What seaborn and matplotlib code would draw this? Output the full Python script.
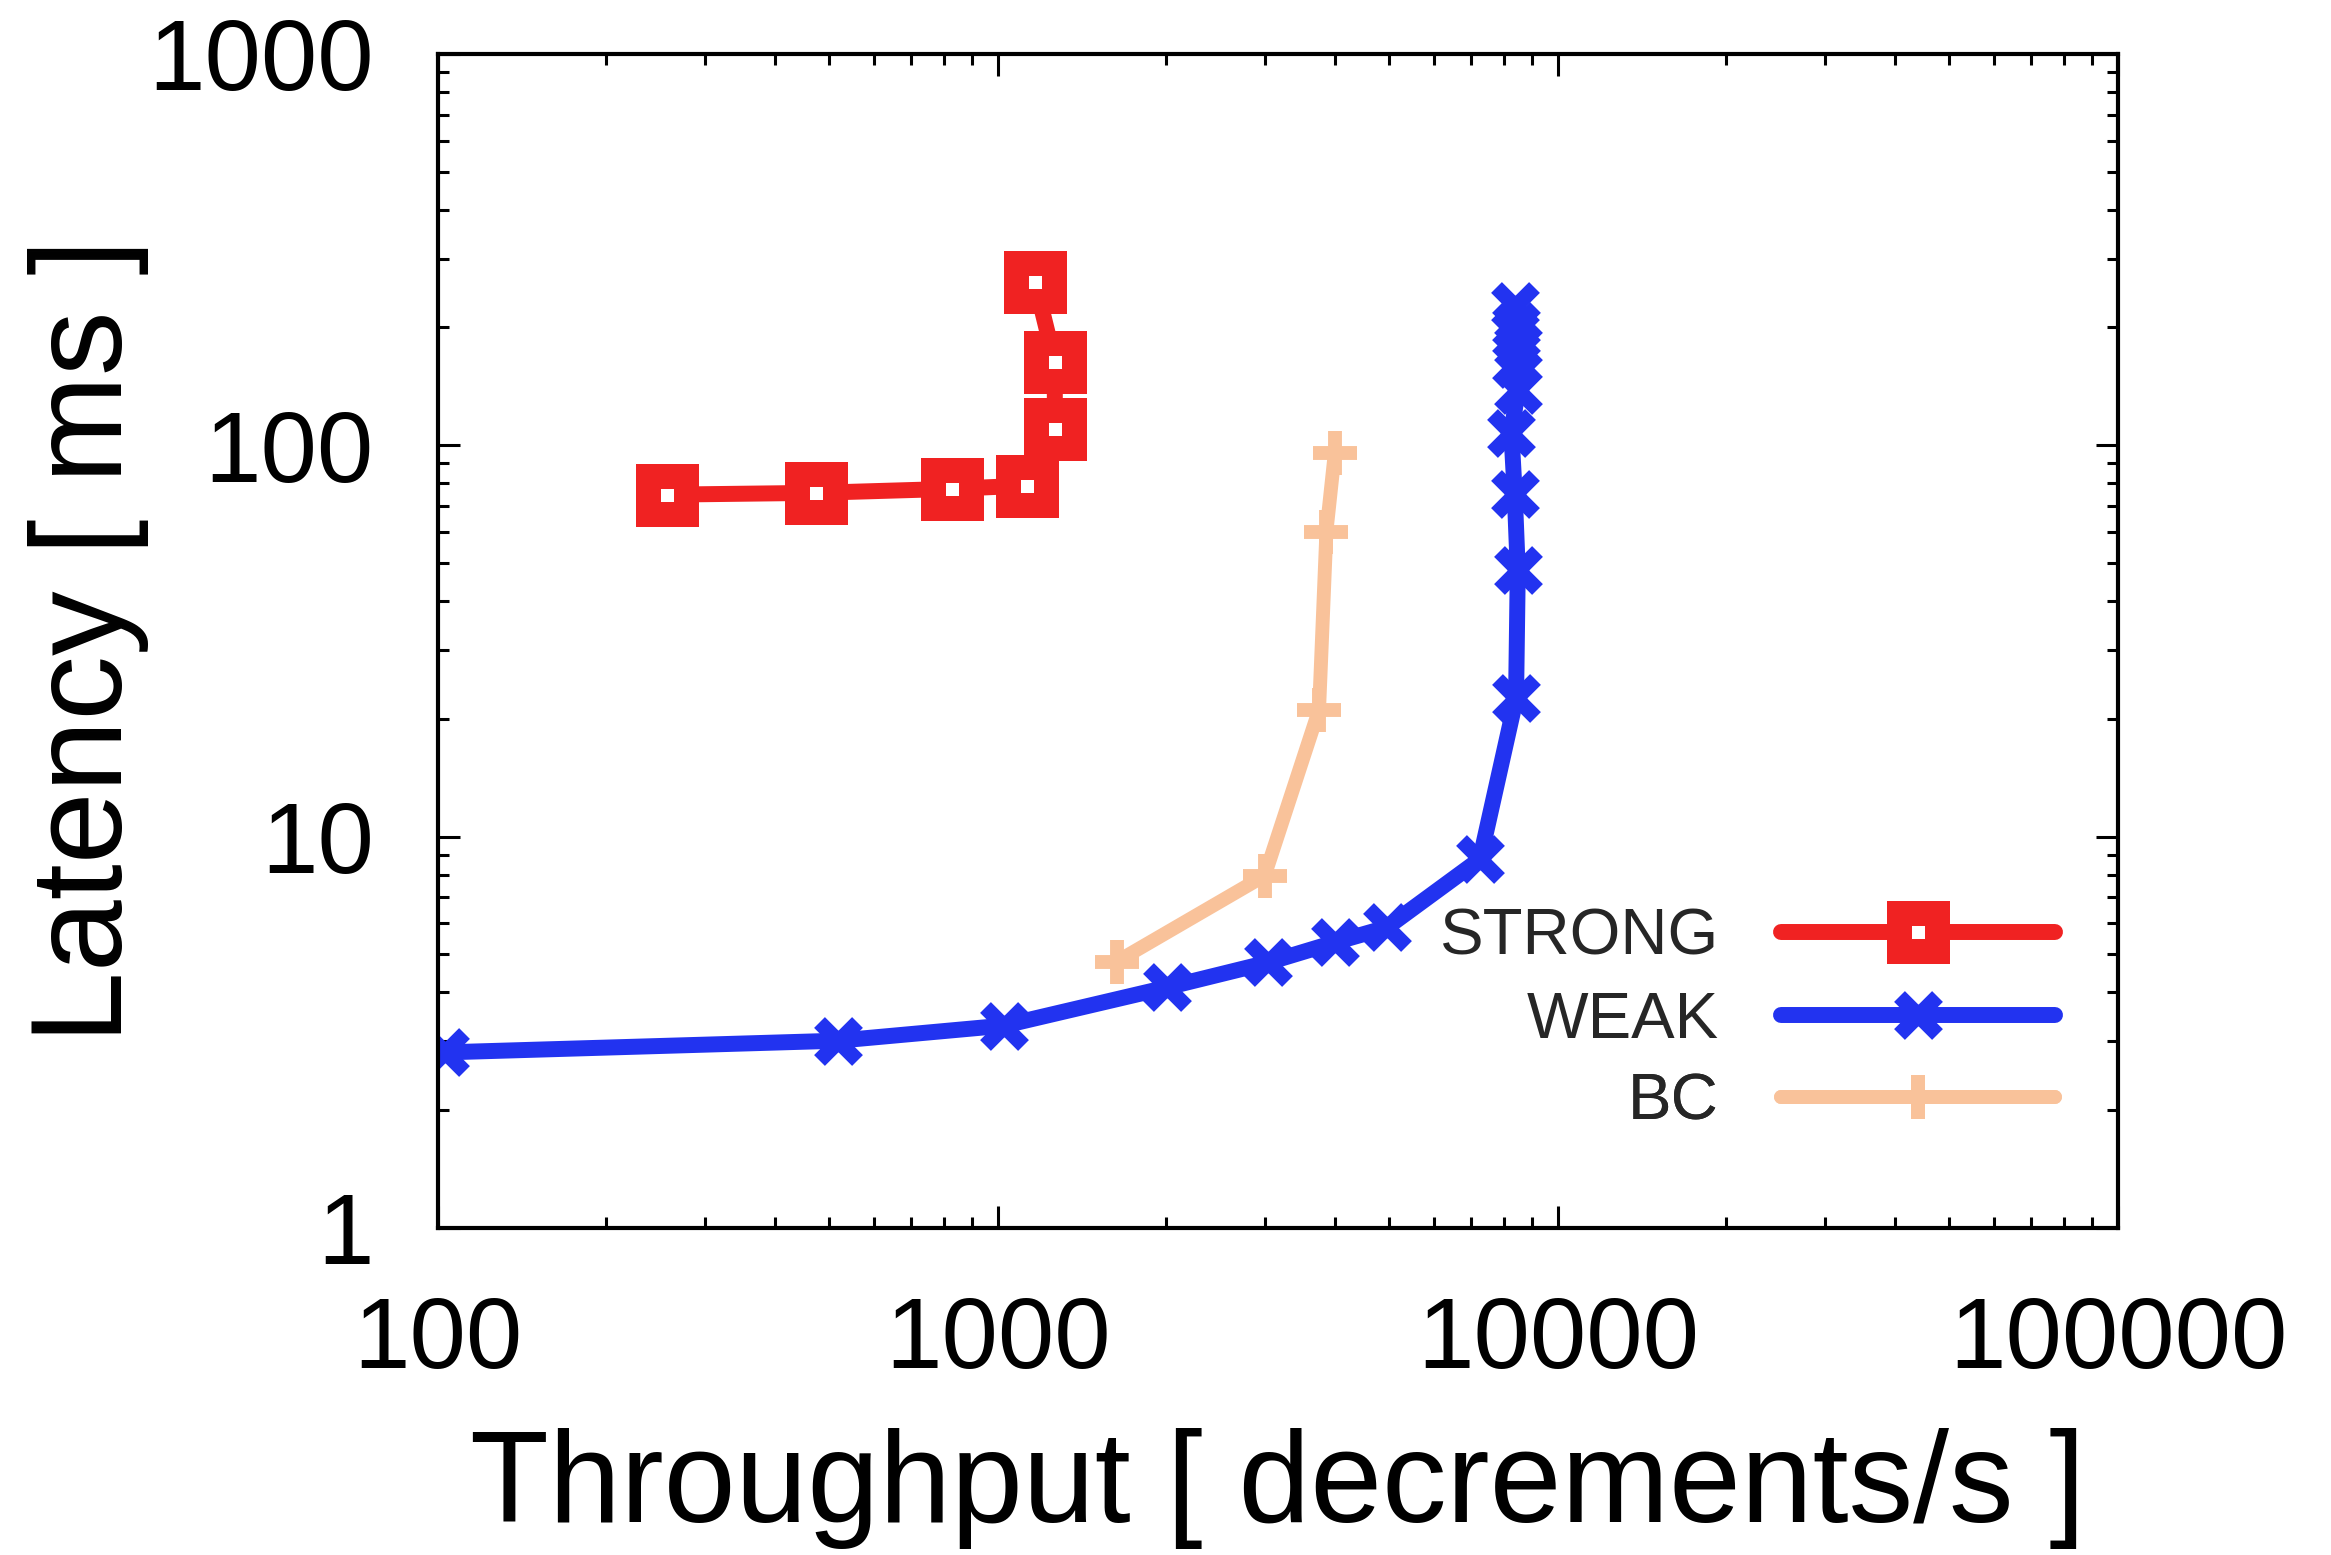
import matplotlib
matplotlib.use("Agg")
import matplotlib.pyplot as plt
import seaborn as sns
import pandas as pd
from matplotlib.ticker import LogLocator, NullFormatter, FixedLocator, FixedFormatter

# ---- data ----
strong_x = [257, 474, 827, 1127, 1264, 1264, 1166]
strong_y = [74.8, 75.6, 77.4, 78.9, 110, 163, 261]

weak_x = [103, 518, 1027, 2007, 3041, 4000, 4950, 7262, 8420, 8480, 8375, 8260, 8480, 8420, 8480, 8420, 8375]
weak_y = [2.81, 3.01, 3.29, 4.12, 4.77, 5.37, 5.86, 8.76, 22.6, 47.9, 75, 107.6, 138.8, 161, 179, 202, 227.6]

bc_x = [1629, 2996, 3746, 3861, 3996]
bc_y = [4.79, 7.95, 21.1, 60.2, 95.4]

series_names = ["STRONG", "WEAK", "BC"]
xticks = [100, 1000, 10000, 100000]
xtick_labels = ["100", "1000", "10000", "100000"]
yticks = [1, 10, 100, 1000]
ytick_labels = ["1", "10", "100", "1000"]

RED = "#F02222"
BLUE = "#2233F0"
PEACH = "#F9C29A"

sns.set_theme(style="white")
plt.rcParams["font.family"] = ["Liberation Sans", "DejaVu Sans"]

fig = plt.figure(figsize=(23.31, 15.55), dpi=100)
ax = fig.add_axes([0.1878, 0.2103, 0.7208, 0.7550])

df_bc = pd.DataFrame({"x": bc_x, "y": bc_y})
df_weak = pd.DataFrame({"x": weak_x, "y": weak_y})
df_strong = pd.DataFrame({"x": strong_x, "y": strong_y})

sns.lineplot(data=df_bc, x="x", y="y", ax=ax, sort=False, estimator=None,
             color=PEACH, lw=10, marker="+", markersize=31, markeredgewidth=10,
             markeredgecolor=PEACH, label=series_names[2], legend=False)
sns.lineplot(data=df_weak, x="x", y="y", ax=ax, sort=False, estimator=None,
             color=BLUE, lw=11.5, marker="x", markersize=28, markeredgewidth=11,
             markeredgecolor=BLUE, label=series_names[1], legend=False)
sns.lineplot(data=df_strong, x="x", y="y", ax=ax, sort=False, estimator=None,
             color=RED, lw=11.5, marker="s", markersize=28, markeredgewidth=18,
             markerfacecolor="white", markeredgecolor=RED,
             label=series_names[0], legend=False)

ax.set_xscale("log")
ax.set_yscale("log")
ax.set_xlim(100, 100000)
ax.set_ylim(1, 1000)

ax.xaxis.set_major_locator(FixedLocator(xticks))
ax.xaxis.set_major_formatter(FixedFormatter(xtick_labels))
ax.yaxis.set_major_locator(FixedLocator(yticks))
ax.yaxis.set_major_formatter(FixedFormatter(ytick_labels))
ax.xaxis.set_minor_locator(LogLocator(base=10, subs=range(2, 10), numticks=20))
ax.yaxis.set_minor_locator(LogLocator(base=10, subs=range(2, 10), numticks=20))
ax.xaxis.set_minor_formatter(NullFormatter())
ax.yaxis.set_minor_formatter(NullFormatter())

for s in ax.spines.values():
    s.set_linewidth(3)
    s.set_color("black")

ax.tick_params(which="both", direction="in", top=True, right=True, bottom=True, left=True,
               colors="black", width=2.2)
ax.tick_params(which="major", length=16, labelsize=73, pad=48)
ax.tick_params(which="minor", length=8)
ax.tick_params(axis="y", which="major", pad=46)

ax.set_xlabel("Throughput [ decrements/s ]", fontsize=93, color="black")
ax.set_ylabel("Latency [ ms ]", fontsize=93, color="black")
ax.xaxis.set_label_coords(0.5, -0.17)
ax.yaxis.set_label_coords(-0.172, 0.5)
ax.grid(False)

# legend: one entry per legend so labels are right-aligned next to the samples
handles = {ln.get_label(): ln for ln in ax.get_lines()}
rows = [("STRONG", 0.2470), ("WEAK", 0.1763), ("BC", 0.1065)]
for name, yy in rows:
    leg = ax.legend([handles[name]], [name], loc="center right",
                    bbox_to_anchor=(0.9625, yy), frameon=False, markerfirst=False,
                    handlelength=4.2, handletextpad=0.95, borderpad=0,
                    borderaxespad=0, fontsize=47, numpoints=1)
    ax.add_artist(leg)

fig.savefig("out.png", dpi=100, facecolor="white")
